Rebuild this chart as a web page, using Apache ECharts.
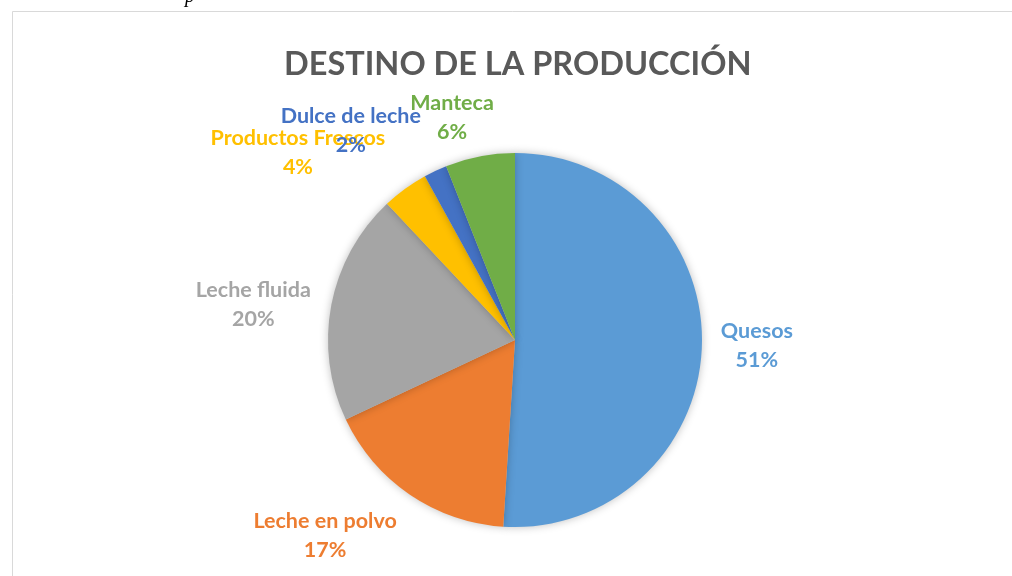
<!DOCTYPE html>
<html>
<head>
<meta charset="utf-8">
<script src="https://cdn.jsdelivr.net/npm/echarts@6/dist/echarts.min.js"></script>
<style>
	html, body { margin: 0; padding: 0; background: #fff; }
	#main { width: 1012px; height: 576px; }
</style>
</head>
<body>
<div id="main"></div>
<script>
// datos del grafico
var categorias = ['Quesos', 'Leche en polvo', 'Leche fluida', 'Productos Frescos', 'Dulce de leche', 'Manteca'];
var valores = [51, 17, 20, 4, 2, 6];
var colores = ['#5B9BD5', '#ED7D31', '#A5A5A5', '#FFC000', '#4472C4', '#70AD47'];

// ajuste de las etiquetas (tipo "mejor ajuste" de Excel)
var ajusteEtiquetas = [[2, -2], [-55, -3], [-26, 10], [-76, 7], [-62, 8], [-18, 13]];

var centro = [515, 340];
var radio = 187;

window.onload = function() {
	var myChart = echarts.init(document.getElementById('main'));

	var total = valores.reduce(function(a, b) { return a + b; }, 0);
	var acum = [];
	var s = 0;
	for (var i = 0; i < valores.length; i++) {
		acum.push((s + valores[i] / 2) / total * Math.PI * 2);
		s += valores[i];
	}

	var datos = categorias.map(function(c, i) {
		return { name: c, value: valores[i], itemStyle: { color: colores[i] }, label: { color: colores[i] } };
	});

	var option = {
		backgroundColor: '#fff',
		animation: false,
		graphic: [
			{
				type: 'rect',
				shape: { x: 12.5, y: 11.5, width: 1100, height: 700 },
				style: { fill: 'none', stroke: '#d9d9d9', lineWidth: 1 }
			},
			{
				type: 'text',
				x: 185, y: -13,
				style: { text: 'p', font: 'italic 20px "Liberation Serif"', fill: '#000' }
			}
		],
		title: {
			text: 'DESTINO DE LA PRODUCCIÓN',
			left: 279,
			top: 43,
			textStyle: {
				fontFamily: 'Lato',
				fontWeight: 'bold',
				fontSize: 32.5,
				color: '#595959'
			}
		},
		series: [{
			name: 'Destino',
			type: 'pie',
			center: centro,
			radius: radio,
			startAngle: 90,
			clockwise: true,
			avoidLabelOverlap: false,
			data: datos,
			itemStyle: {
				borderWidth: 0,
				shadowBlur: 8,
				shadowColor: 'rgba(0,0,0,0.25)'
			},
			label: {
				show: true,
				position: 'outside',
				formatter: '{b}\n{d}%',
				fontFamily: 'Lato',
				fontWeight: 'bold',
				fontSize: 21.5,
				lineHeight: 29,
				align: 'center'
			},
			labelLine: { show: false },
			emphasis: { disabled: true },
			labelLayout: function(params) {
				var i = params.dataIndex;
				var a = acum[i];
				var d = 240;
				return {
					x: centro[0] + d * Math.sin(a) + ajusteEtiquetas[i][0],
					y: centro[1] - d * Math.cos(a) + ajusteEtiquetas[i][1],
					align: 'center',
					verticalAlign: 'middle'
				};
			}
		}]
	};
	myChart.setOption(option);
};
</script>
</body>
</html>
